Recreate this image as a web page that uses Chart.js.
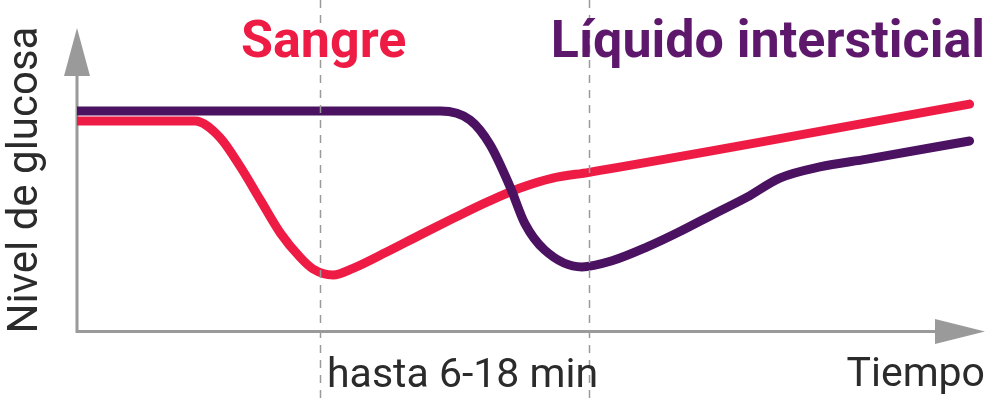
<!DOCTYPE html>
<html>
<head>
<meta charset="utf-8">
<script src="https://cdn.jsdelivr.net/npm/chart.js@4"></script>
<style>
	html, body { margin: 0; padding: 0; background: #fff; }
	#wrap { width: 1000px; height: 398px; }
</style>
</head>
<body>
<div id="wrap"><canvas id="grafico"></canvas></div>
<script>
// tiempo (0-100) y nivel de glucosa (0-100)
let tiempoSangre = [0, 13.0, 15.7, 18.0, 20.2, 22.4, 24.6, 26.0, 28.2, 30.4, 34.1, 37.8, 41.4, 45.2, 48.8, 52.4, 56.4, 98.3];
let glucosaSangre = [69.2, 69.2, 63.9, 54.0, 43.0, 32.1, 24.0, 20.2, 18.2, 20.4, 25.8, 31.5, 36.9, 42.4, 47.0, 50.3, 52.2, 74.8];

let tiempoLiquido = [0, 40.0, 43.3, 45.5, 47.7, 49.3, 51.5, 55.6, 59.0, 62.8, 66.4, 70.0, 73.8, 77.4, 81.8, 87.0, 98.3];
let glucosaLiquido = [72.5, 72.5, 69.5, 61.3, 47.4, 35.4, 26.5, 20.9, 23.0, 27.5, 32.6, 38.2, 44.0, 50.3, 54.0, 56.6, 62.6];

// lineas de referencia verticales (retraso de 6-18 min)
let marcas = [26.8, 56.4];

let etiquetas = {
	sangre: 'Sangre',
	liquido: 'Líquido intersticial',
	ejeY: 'Nivel de glucosa',
	ejeX: 'Tiempo',
	retraso: 'hasta 6-18 min'
};

let rojo = '#ee1b45';
let morado = '#4b1262';
let moradoTexto = '#5d186c';
let gris = '#9a9a9a';
let texto = '#2b2b2b';

function puntos(xs, ys){
	return xs.map((x, i) => ({x: x, y: ys[i]}));
}

// ejes con flechas, debajo de las curvas
let ejes = {
	id: 'ejes',
	beforeDatasetsDraw(chart){
		let c = chart.ctx;
		let a = chart.chartArea;
		c.save();
		c.strokeStyle = gris;
		c.fillStyle = gris;
		c.lineWidth = 3;
		c.beginPath();
		c.moveTo(a.left, a.top + 40);
		c.lineTo(a.left, a.bottom + 1.5);
		c.lineTo(a.right - 45, a.bottom + 1.5);
		c.stroke();
		// flecha vertical
		c.beginPath();
		c.moveTo(a.left, a.top);
		c.lineTo(a.left - 13, a.top + 48);
		c.lineTo(a.left + 13, a.top + 48);
		c.closePath();
		c.fill();
		// flecha horizontal
		c.beginPath();
		c.moveTo(a.right, a.bottom + 1.5);
		c.lineTo(a.right - 50, a.bottom - 11);
		c.lineTo(a.right - 50, a.bottom + 14);
		c.closePath();
		c.fill();
		c.restore();
	}
};

// lineas discontinuas y textos, encima de las curvas
let textos = {
	id: 'textos',
	afterDatasetsDraw(chart){
		let c = chart.ctx;
		let sx = chart.scales.x;
		c.save();
		c.strokeStyle = gris;
		c.lineWidth = 1.5;
		c.setLineDash([8, 7]);
		marcas.forEach(m => {
			let px = Math.round(sx.getPixelForValue(m)) + 0.5;
			c.beginPath();
			c.moveTo(px, 0);
			c.lineTo(px, chart.height);
			c.stroke();
		});
		c.setLineDash([]);

		c.font = 'bold 52px Roboto';
		c.textBaseline = 'alphabetic';
		c.textAlign = 'left';
		c.fillStyle = rojo;
		c.fillText(etiquetas.sangre, 241, 57);
		c.fillStyle = moradoTexto;
		c.textAlign = 'right';
		c.fillText(etiquetas.liquido, 985, 57);

		c.font = '41px Roboto';
		c.fillStyle = texto;
		c.textAlign = 'left';
		c.fillText(etiquetas.retraso, 327, 387);
		c.textAlign = 'right';
		c.fillText(etiquetas.ejeX, 985, 386);

		c.translate(37, 180);
		c.rotate(-Math.PI / 2);
		c.textAlign = 'center';
		c.font = '42px Roboto';
		c.fillText(etiquetas.ejeY, 0, 0);
		c.restore();
	}
};

let ctx = document.getElementById('grafico').getContext('2d');

let chart = new Chart(ctx, {
	type: 'line',
	data: {
		datasets: [{
			label: etiquetas.liquido,
			data: puntos(tiempoLiquido, glucosaLiquido),
			borderColor: morado,
			borderWidth: 9,
			borderCapStyle: 'round',
			cubicInterpolationMode: 'monotone',
			pointRadius: 0,
			fill: false
		}, {
			label: etiquetas.sangre,
			data: puntos(tiempoSangre, glucosaSangre),
			borderColor: rojo,
			borderWidth: 9,
			borderCapStyle: 'round',
			cubicInterpolationMode: 'monotone',
			pointRadius: 0,
			fill: false
		}]
	},
	options: {
		responsive: true,
		maintainAspectRatio: false,
		animation: false,
		layout: { padding: { left: 77, right: 15, top: 28, bottom: 68 } },
		plugins: {
			legend: { display: false },
			tooltip: { enabled: false }
		},
		scales: {
			x: { type: 'linear', min: 0, max: 100, display: false },
			y: { min: 0, max: 100, display: false }
		}
	},
	plugins: [ejes, textos]
});
</script>
</body>
</html>
